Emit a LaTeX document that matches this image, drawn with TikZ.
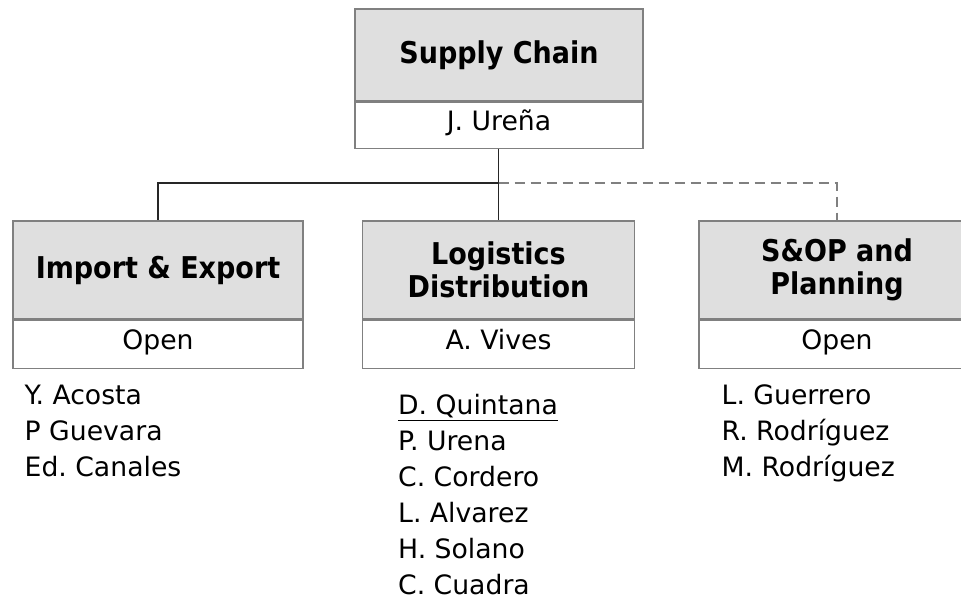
\documentclass[tikz,border=0pt]{standalone}
\usepackage{fontspec}
\setmainfont{DejaVu Sans}
\newfontfamily\headfont{DejaVu Sans Condensed}
\usetikzlibrary{positioning, calc}
\frenchspacing
\tikzset{
  head/.style={rectangle, draw=gray, fill=gray!25, line width=0.9pt,
               minimum height=73.5pt, inner sep=0pt, align=center,
               font=\headfont\fontsize{22.5}{24.75}\selectfont\bfseries},
  who/.style={rectangle, draw=gray, fill=white, line width=0.9pt,
              minimum height=36pt, inner sep=0pt, text height=0.9em, text depth=0.15em,
              font=\fontsize{20}{22}\selectfont},
  names/.style={anchor=base west, align=left, inner sep=0pt,
                font=\fontsize{20}{27}\selectfont},
  link/.style={line width=1.4pt, black!85},
  dlink/.style={link, gray, dash pattern=on 7.5pt off 4.5pt}
}
\begin{document}
\begin{tikzpicture}[x=0.75pt, y=-0.75pt, node distance=0pt]
  \clip (0,0) rectangle (961,600);
  \node[head, minimum width=216pt, minimum height=69pt] (sc) at (499,55) {Supply Chain};
  \node[who, minimum width=216pt, minimum height=34.5pt, below=of sc] (scw) {J. Ureña};

  \node[head, minimum width=217.5pt] (ie) at (158,270) {Import \& Export};
  \node[who, minimum width=217.5pt, below=of ie] (iew) {Open};
  \node[head, minimum width=204pt] (ld) at (498.5,270) {Logistics\\Distribution};
  \node[who, minimum width=204pt, below=of ld] (ldw) {A. Vives};
  \node[head, minimum width=207pt] (sop) at (837,270) {S\&OP and\\Planning};
  \node[who, minimum width=207pt, below=of sop] (sopw) {Open};

  \node[names] (ien) at ($(iew.south west)+(12,108)$) {Y. Acosta\\P Guevara\\Ed. Canales};
  \node[names] (ldn) at ($(ldw.south west)+(36,226)$) {\underline{D. Quintana}\\P. Urena\\C. Cordero\\L. Alvarez\\H. Solano\\C. Cuadra};
  \node[names] (sopn) at ($(sopw.south west)+(23,108)$) {L. Guerrero\\R. Rodríguez\\M. Rodríguez};

  \coordinate (j) at (498.5,183);
  \draw[link] (scw.south -| j) -- (j) -| (ie.north);
  \draw[link] (j) -- (ld.north);
  \draw[dlink] (j) -| (sop.north);
\end{tikzpicture}
\end{document}
